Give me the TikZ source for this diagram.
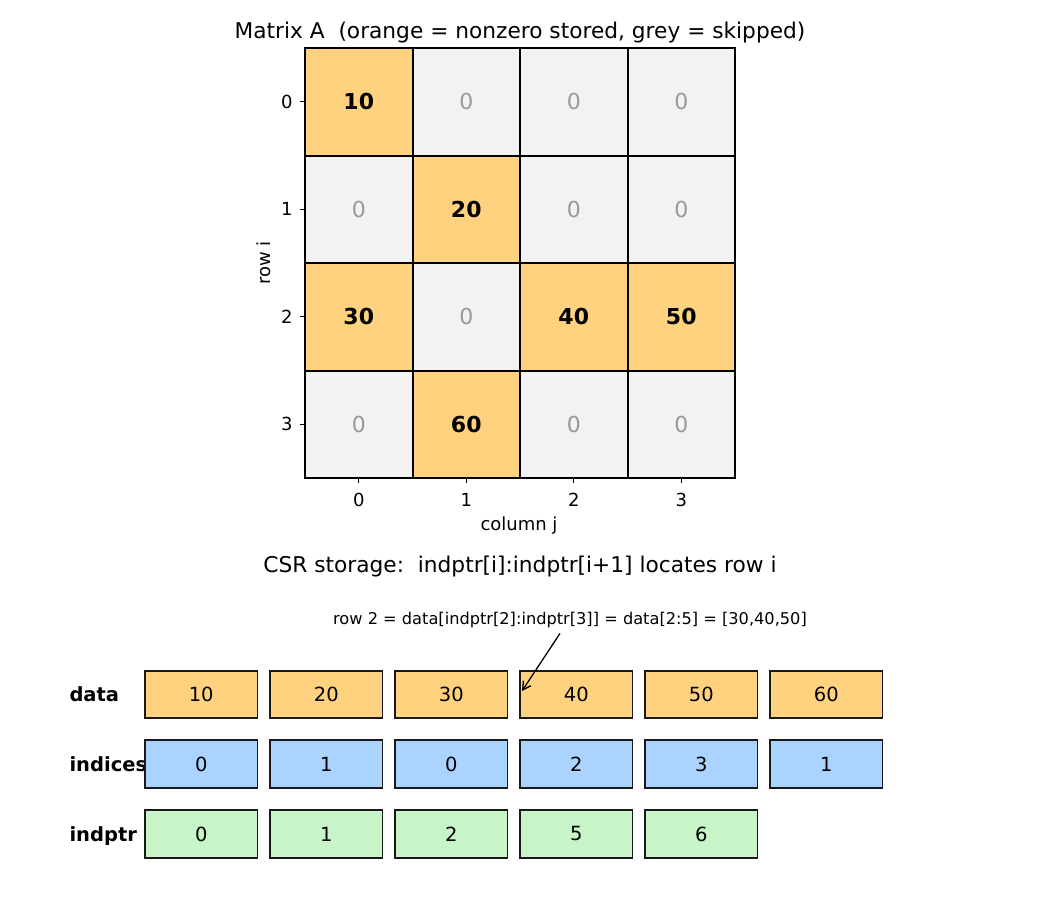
\documentclass[tikz,border=0pt]{standalone}
\usepackage{fontspec}
\setmainfont{DejaVu Sans}
\usetikzlibrary{arrows.meta}

\definecolor{nzorange}{HTML}{FFD280}
\definecolor{skipgrey}{HTML}{F2F2F2}
\definecolor{zerotext}{HTML}{999999}
\definecolor{idxblue}{HTML}{AAD4FF}
\definecolor{ptrgreen}{HTML}{C8F5C8}
\newcommand{\pxfont}[1]{\fontsize{#1}{#1}\selectfont}

\tikzset{
  cell/.style={minimum width=107.5pt,minimum height=107.5pt,inner sep=0pt},
  nzcell/.style={cell,fill=nzorange,font=\pxfont{22}\bfseries},
  zerocell/.style={cell,fill=skipgrey,text=zerotext,font=\pxfont{22}},
  arrbox/.style={draw=black!90,line width=1.8pt,minimum width=112.5pt,minimum height=47.5pt,inner sep=0pt,font=\pxfont{19.5}},
  rowname/.style={anchor=base west,font=\pxfont{19.5}\bfseries},
  ticklab/.style={font=\pxfont{18}},
  bigtitle/.style={font=\pxfont{21.7}}
}

\begin{document}
\begin{tikzpicture}[x=1pt,y=-1pt]
\useasboundingbox (0,0) rectangle (1040,910);

% Matrix A
\node[bigtitle] (title) at (520,33) {Matrix A\ \ (orange = nonzero stored, grey = skipped)};
\foreach \row [count=\i from 0] in {{10,0,0,0},{0,20,0,0},{30,0,40,50},{0,60,0,0}} {
  \foreach \v [count=\j from 0] in \row {
    \ifnum\v=0
      \node[zerocell] (cell-\i-\j) at (358.75+107.5*\j,101.75+107.5*\i) {\v};
    \else
      \node[nzcell] (cell-\i-\j) at (358.75+107.5*\j,101.75+107.5*\i) {\v};
    \fi
  }
}
\foreach \i in {0,...,3}
  \foreach \j in {0,...,3}
    \draw[line width=1.6pt] (cell-\i-\j.north west) rectangle (cell-\i-\j.south east);
\draw[line width=1.8pt] (cell-0-0.north west) rectangle (cell-3-3.south east);

% axis ticks
\foreach \k in {0,...,3} {
  \draw[line width=1.2pt] (cell-\k-0.west) -- ++(-5,0) node[ticklab,anchor=center,xshift=-13pt] (ytick-\k) {\k};
  \draw[line width=1.2pt] (cell-3-\k.south) -- ++(0,5) node[ticklab,anchor=center,yshift=-17pt] (xtick-\k) {\k};
}
\node[ticklab,rotate=90] (ylab) at (264,263) {row i};
\node[ticklab] (xlab) at (519,526) {column j};

% CSR arrays
\node[bigtitle] (csrtitle) at (520,567) {CSR storage:\ \ indptr[i]:indptr[i+1] locates row i};

\node[rowname] (dataname) at (66,701.5) {data};
\node[rowname] (idxname) at (66,771) {indices};
\node[rowname] (ptrname) at (66,841) {indptr};
\foreach \v [count=\k from 0] in {10,20,30,40,50,60}
  \node[arrbox,fill=nzorange] (d\k) at (201.25+125*\k,694.5) {\v};
\foreach \v [count=\k from 0] in {0,1,0,2,3,1}
  \node[arrbox,fill=idxblue] (ix\k) at (201.25+125*\k,764) {\v};
\foreach \v [count=\k from 0] in {0,1,2,5,6}
  \node[arrbox,fill=ptrgreen] (p\k) at (201.25+125*\k,834) {\v};

\node[font=\pxfont{16.2}] (note) at (570,620) {row 2 = data[indptr[2]:indptr[3]] = data[2:5] = [30,40,50]};
\coordinate (tip) at (522,691);
\draw[line width=1.3pt,-{Straight Barb[length=8pt,width=9pt]}] ([xshift=-10pt,yshift=-2pt]note.south) -- (tip);
\end{tikzpicture}
\end{document}
